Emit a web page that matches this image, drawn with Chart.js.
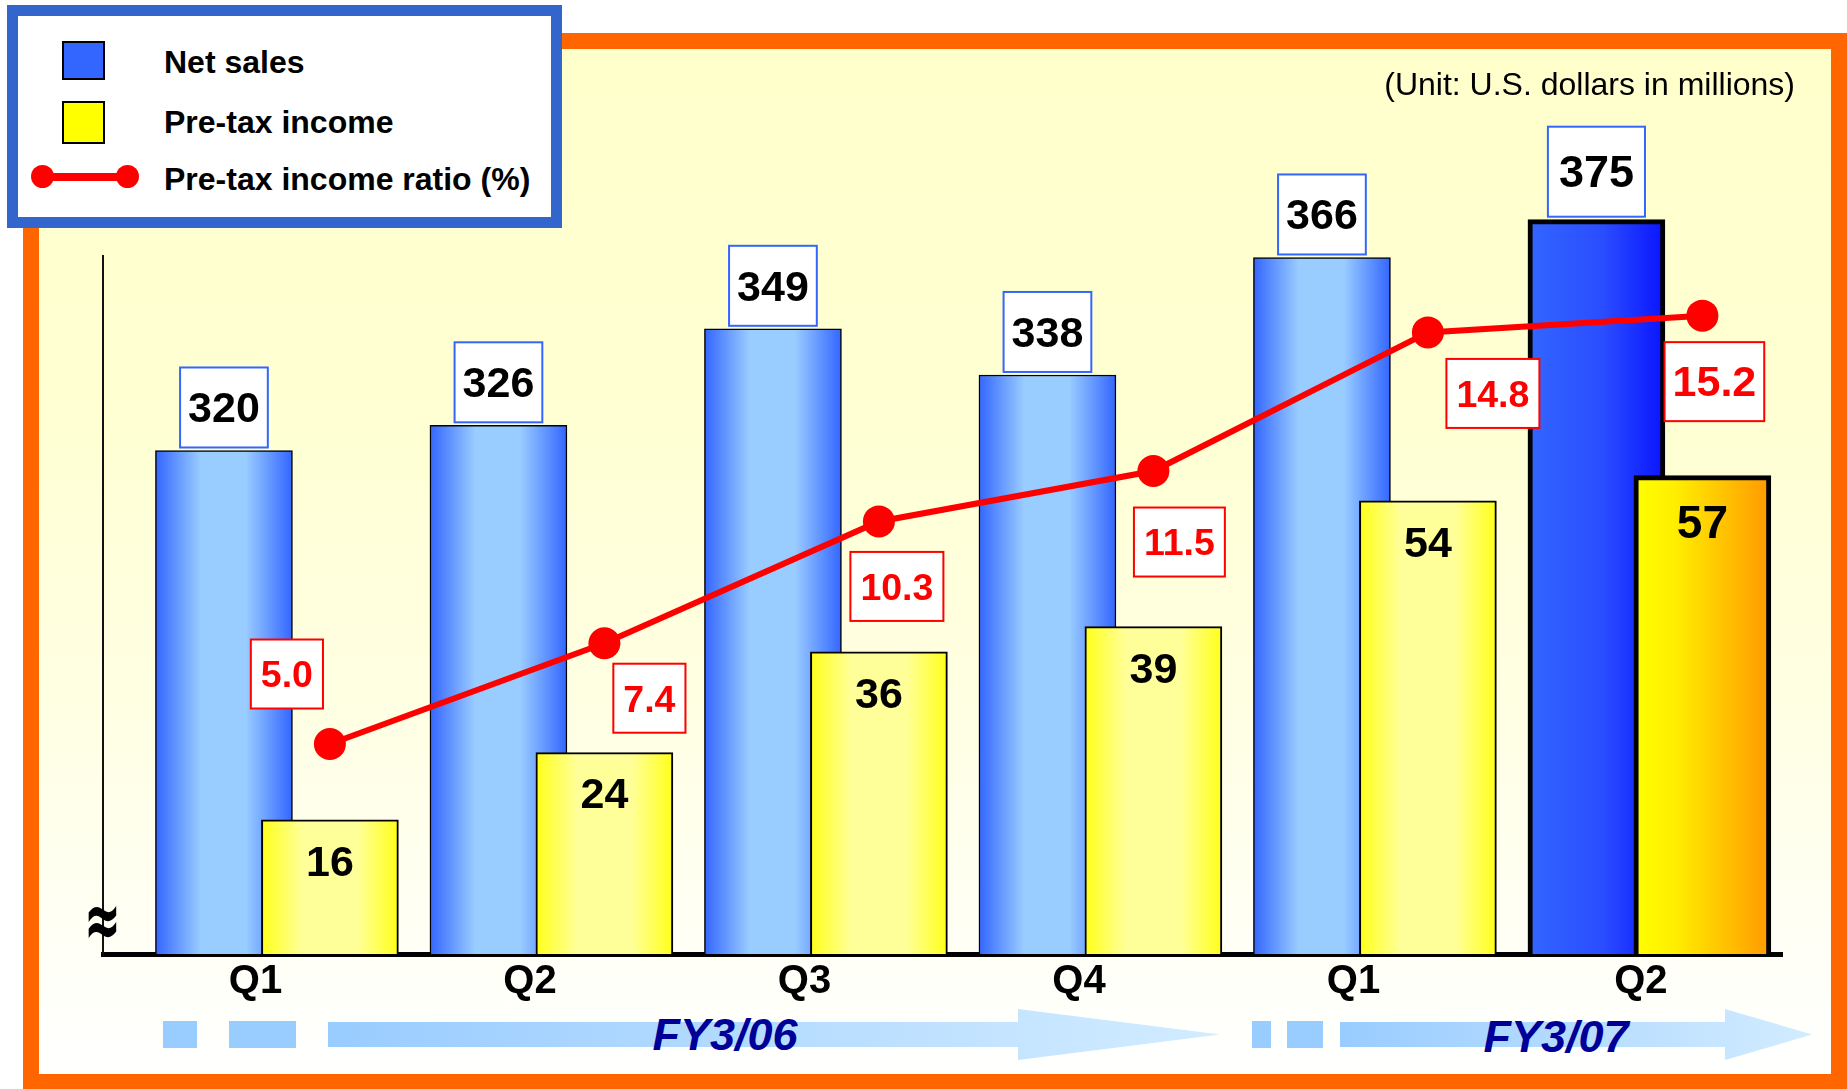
<!DOCTYPE html>
<html>
<head>
<meta charset="utf-8">
<script src="https://cdn.jsdelivr.net/npm/chart.js@4.4.1/dist/chart.umd.min.js"></script>
<style>
  html, body { margin: 0; padding: 0; width: 1847px; height: 1089px; overflow: hidden; background: #fff; }
  body { position: relative; font-family: 'Liberation Sans', Arial, sans-serif; }
  #frame { position: absolute; left: 23px; top: 33px; width: 1824px; height: 1056px; box-sizing: border-box;
    border: 16px solid #ff6600; border-bottom-width: 15px;
    background: linear-gradient(to bottom, #ffffcc 0%, #ffffd3 35%, #ffffe4 65%, #fffff7 88%, #ffffff 100%); }
  #wrap { position: absolute; left: 0; top: 0; width: 1847px; height: 1089px; }
  #legend { position: absolute; left: 7px; top: 5px; width: 555px; height: 223px; box-sizing: border-box;
    border: 11px solid #3366cc; background: #fff; }
  #legend .sw { position: absolute; box-sizing: border-box; border: 2px solid #000; width: 43px; }
  #legend .txt { position: absolute; left: 146px; font-weight: bold; font-size: 32px; line-height: 32px; color: #000; white-space: nowrap; }
  #legend .ln { position: absolute; left: 24px; width: 85px; height: 8px; background: #ff0000; }
  #legend .dot { position: absolute; width: 23px; height: 23px; border-radius: 50%; background: #ff0000; }
  .unit { position: absolute; right: 52px; top: 68px; font-size: 32px; line-height: 32px; color: #000; white-space: nowrap; }
  .brk { position: absolute; left: 84px; top: 898px; font-family: 'DejaVu Sans', sans-serif; font-weight: bold;
    font-size: 44px; line-height: 44px; transform: scale(1, 1.8); color: #000; }
  .sq { position: absolute; top: 1021px; height: 27px; background: #99ccff; }
  .arrow { position: absolute; top: 1009px; height: 51px; background: linear-gradient(to right, #99ccff, #d2ecff); }
  .fy { position: absolute; width: 300px; text-align: center; font-weight: bold; font-style: italic;
    font-size: 45px; line-height: 45px; color: #000099; }
</style>
</head>
<body>
<div id="frame"></div>

<div class="sq" style="left:163px;width:34px"></div>
<div class="sq" style="left:229px;width:67px"></div>
<div class="arrow" style="left:328px;width:892px;clip-path:polygon(0 13px,690px 13px,690px 0,892px 25.5px,690px 51px,690px 38px,0 38px)"></div>
<div class="sq" style="left:1252px;width:19px"></div>
<div class="sq" style="left:1287px;width:36px"></div>
<div class="arrow" style="left:1340px;width:472px;clip-path:polygon(0 13px,385px 13px,385px 0,472px 25.5px,385px 51px,385px 38px,0 38px)"></div>
<div class="fy" style="left:575px;top:1012px">FY3/06</div>
<div class="fy" style="left:1406px;top:1014px">FY3/07</div>

<div id="wrap"><canvas id="chart" width="1847" height="1089"></canvas></div>

<div class="brk">≈</div>
<div class="unit">(Unit: U.S. dollars in millions)</div>

<div id="legend">
  <div class="sw" style="left:44px;top:25px;height:39px;background:#3366ff"></div>
  <div class="txt" style="top:30px">Net sales</div>
  <div class="sw" style="left:44px;top:85px;height:43px;background:#ffff00"></div>
  <div class="txt" style="top:90px">Pre-tax income</div>
  <div class="ln" style="top:157px"></div>
  <div class="dot" style="left:13px;top:149px"></div>
  <div class="dot" style="left:98px;top:149px"></div>
  <div class="txt" style="top:147px">Pre-tax income ratio (%)</div>
</div>

<script>
// ---- data
const QUARTERS  = ["Q1", "Q2", "Q3", "Q4", "Q1", "Q2"];
const NET_SALES = [320, 326, 349, 338, 366, 375];
const PRETAX    = [16, 24, 36, 39, 54, 57];
const RATIO     = [5.0, 7.4, 10.3, 11.5, 14.8, 15.2];
const HIGHLIGHT = 5; // latest quarter is drawn bold
const NET_AXIS_FLOOR = 200; // net sales axis is broken (≈) below this

// label box offsets from each ratio point (px)
const RATIO_LABEL_OFFSET = [[-43, -70], [45, 55], [18, 65], [26, 71], [65, 61], [12, 66]];
// small nudge of the quarter labels along x (the last one sits a little right)
const TICK_NUDGE = [0, 0, 0, 0, 0, 0.047];

const FONT = "'Liberation Sans', Arial, sans-serif";
const NET_SHIFT = -0.115, PRE_SHIFT = 0.271; // bar centres relative to the quarter tick
const BAR_W = 137;

function barGradient(ctx, stops, shift) {
  const chart = ctx.chart, xs = chart.scales && chart.scales.x;
  if (!xs || !chart.chartArea) return stops[0][1];
  const cx = xs.getPixelForValue(ctx.dataIndex + shift);
  const g = chart.ctx.createLinearGradient(cx - BAR_W / 2, 0, cx + BAR_W / 2, 0);
  stops.forEach(s => g.addColorStop(s[0], s[1]));
  return g;
}
const NET_STOPS    = [[0, "#3366ff"], [0.33, "#99ccff"], [0.66, "#99ccff"], [1, "#3366ff"]];
const NET_HL_STOPS = [[0, "#3366ff"], [0.55, "#2a4dff"], [1, "#0a14ff"]];
const PRE_STOPS    = [[0, "#ffff1a"], [0.3, "#ffff99"], [0.7, "#ffff99"], [1, "#ffff1a"]];
const PRE_HL_STOPS = [[0, "#ffff00"], [0.3, "#ffee00"], [1, "#ff9900"]];

function labelBox(ctx, text, cx, cy, font, padX, h, stroke, color) {
  ctx.font = font;
  const w = ctx.measureText(text).width + padX * 2;
  ctx.fillStyle = "#fff";
  ctx.fillRect(cx - w / 2, cy - h / 2, w, h);
  ctx.lineWidth = 2;
  ctx.strokeStyle = stroke;
  ctx.strokeRect(cx - w / 2, cy - h / 2, w, h);
  ctx.fillStyle = color;
  ctx.fillText(text, cx, cy + 3);
}

const valueLabels = {
  id: "valueLabels",
  afterDatasetsDraw(chart) {
    const ctx = chart.ctx;
    const ratioMeta = chart.getDatasetMeta(0), preMeta = chart.getDatasetMeta(1), netMeta = chart.getDatasetMeta(2);
    ctx.save();
    ctx.textAlign = "center";
    ctx.textBaseline = "middle";
    preMeta.data.forEach((bar, i) => {
      const hl = i === HIGHLIGHT;
      ctx.font = `bold ${hl ? 46 : 43}px ${FONT}`;
      ctx.fillStyle = "#000";
      ctx.fillText(String(PRETAX[i]), bar.x, bar.y + (hl ? 50 : 44));
    });
    ratioMeta.data.forEach((pt, i) => {
      const hl = i === HIGHLIGHT;
      const [dx, dy] = RATIO_LABEL_OFFSET[i];
      labelBox(ctx, RATIO[i].toFixed(1), pt.x + dx, pt.y + dy,
        `bold ${hl ? 43 : 37.5}px ${FONT}`, hl ? 8 : 10, hl ? 79 : 69, "#ff0000", "#ff0000");
    });
    netMeta.data.forEach((bar, i) => {
      const hl = i === HIGHLIGHT;
      const h = hl ? 90 : 80;
      labelBox(ctx, String(NET_SALES[i]), bar.x, bar.y - 3 - h / 2,
        `bold ${hl ? 45 : 43}px ${FONT}`, hl ? 11 : 8, h, "#3366ff", "#000");
    });
    ctx.restore();
  },
};

new Chart(document.getElementById("chart"), {
  type: "bar",
  data: {
    datasets: [
      { type: "line", label: "Pre-tax income ratio (%)", yAxisID: "yRatio", order: 0,
        data: RATIO.map((v, i) => ({ x: i + PRE_SHIFT, y: v })),
        borderColor: "#ff0000", borderWidth: 6, tension: 0,
        pointRadius: 16, pointBackgroundColor: "#ff0000", pointBorderWidth: 0, clip: false },
      { type: "bar", label: "Pre-tax income", yAxisID: "yPre", order: 1, grouped: false, barThickness: BAR_W,
        data: PRETAX.map((v, i) => ({ x: i + PRE_SHIFT, y: v })),
        backgroundColor: c => barGradient(c, c.dataIndex === HIGHLIGHT ? PRE_HL_STOPS : PRE_STOPS, PRE_SHIFT),
        borderColor: "#000", borderWidth: c => c.dataIndex === HIGHLIGHT ? 5 : 2 },
      { type: "bar", label: "Net sales", yAxisID: "yNet", order: 2, grouped: false, barThickness: BAR_W,
        base: NET_AXIS_FLOOR,
        data: NET_SALES.map((v, i) => ({ x: i + NET_SHIFT, y: v })),
        backgroundColor: c => barGradient(c, c.dataIndex === HIGHLIGHT ? NET_HL_STOPS : NET_STOPS, NET_SHIFT),
        borderColor: "#000", borderWidth: c => c.dataIndex === HIGHLIGHT ? 5 : 1.5, clip: false },
    ],
  },
  options: {
    responsive: false, animation: false, devicePixelRatio: 1,
    layout: { padding: { left: 103, top: 256, right: 65, bottom: 79 } },
    plugins: { legend: { display: false }, tooltip: { enabled: false } },
    events: [],
    scales: {
      x: { type: "linear", min: -0.5556, max: 5.561, offset: false, bounds: "data", z: 1,
        afterBuildTicks: a => { a.ticks = QUARTERS.map((_, i) => ({ value: i + TICK_NUDGE[i] })); },
        ticks: { callback: (v, i) => QUARTERS[i], autoSkip: false, maxRotation: 0, padding: 4,
          color: "#000", font: { family: FONT, size: 40, weight: "bold" } },
        grid: { display: false, drawTicks: false },
        border: { display: true, color: "#000", width: 5 } },
      yNet: { type: "linear", position: "left", min: NET_AXIS_FLOOR, max: 366.35,
        ticks: { display: false }, grid: { display: false, drawTicks: false },
        border: { display: true, color: "#111", width: 2 } },
      yPre: { type: "linear", display: false, min: 0, max: 83.17 },
      yRatio: { type: "linear", display: false, min: 0, max: 16.62 },
    },
  },
  plugins: [valueLabels],
});
</script>
</body>
</html>
